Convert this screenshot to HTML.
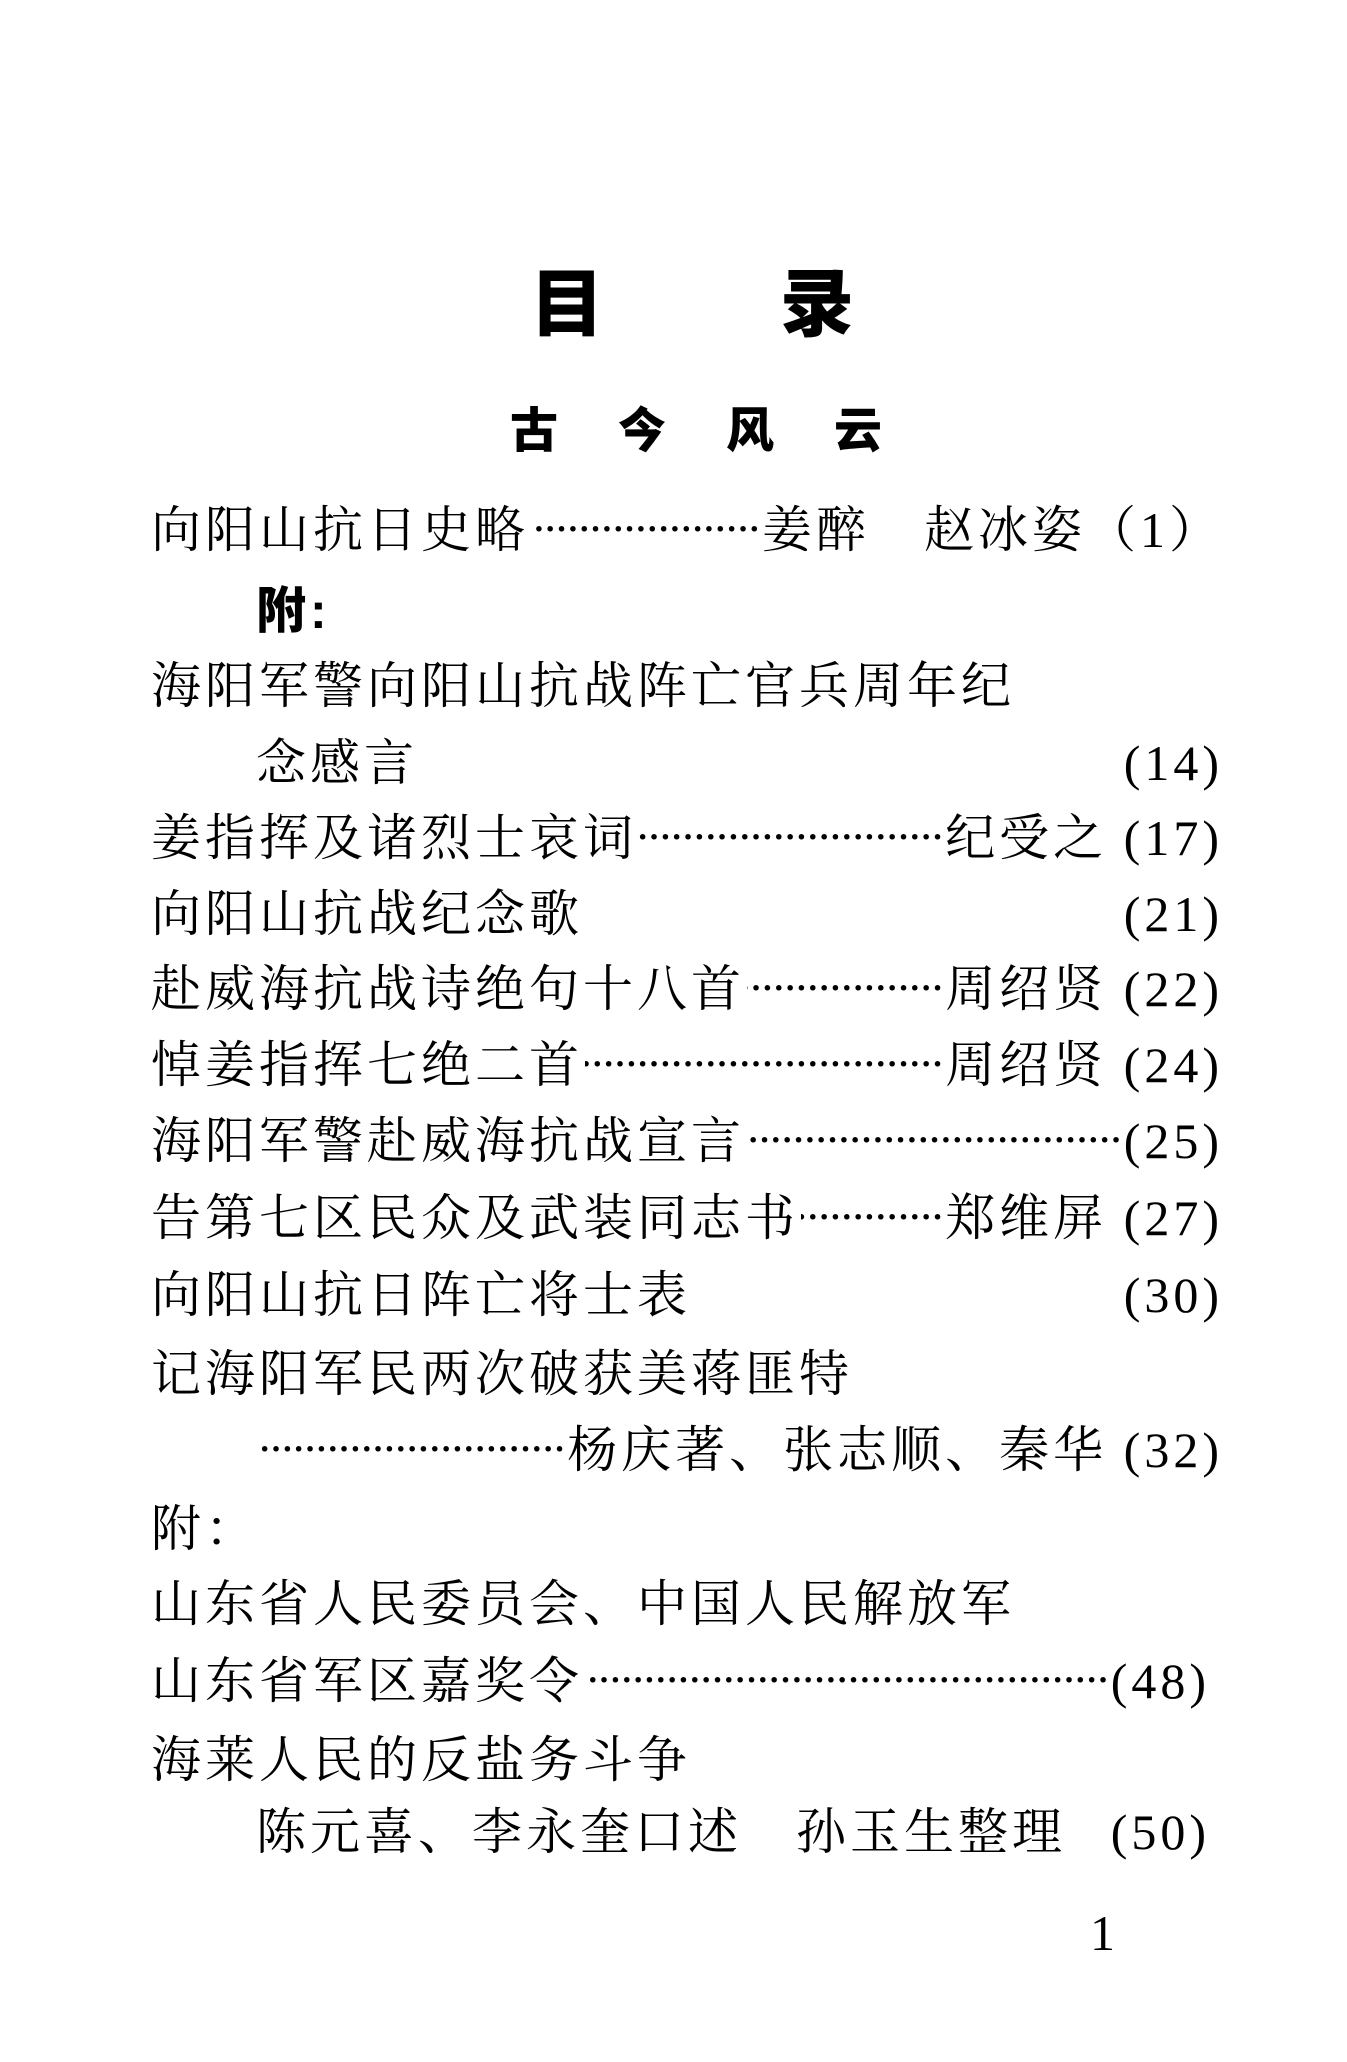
<!DOCTYPE html>
<html><head><meta charset="utf-8"><style>
html,body{margin:0;padding:0;background:#fff;}
body{width:1347px;height:2062px;position:relative;overflow:hidden;color:#000;
font-family:"Liberation Serif","Noto Serif CJK SC",serif;}
.t{position:absolute;font-family:"Liberation Sans","Noto Sans CJK SC",sans-serif;font-weight:900;white-space:nowrap}
.r{position:absolute;left:151px;right:124px;height:60px;line-height:60px;font-size:50px;letter-spacing:4px;display:flex;white-space:nowrap}
.r.i{left:256px}
.d{flex:1;overflow:hidden;font-size:34px;letter-spacing:0;text-align:right;direction:rtl;font-weight:bold;margin:0 2px}
.sp{flex:1}
.b{font-family:"Liberation Sans","Noto Sans CJK SC",sans-serif;font-weight:900}
</style></head><body>
<div class="t" style="left:530px;top:262px;font-size:74px;line-height:86px;">目</div>
<div class="t" style="left:780px;top:262px;font-size:74px;line-height:86px;">录</div>
<div class="t" style="left:510px;top:405px;font-size:48px;line-height:54px;letter-spacing:60px;">古今风云</div>

<div class="r" style="top:500px"><span>向阳山抗日史略</span><span class="d">····································································</span><span>姜醉　赵冰姿（1）</span></div>
<div class="r i" style="top:581px"><span class="b">附:</span></div>
<div class="r" style="top:656px"><span>海阳军警向阳山抗战阵亡官兵周年纪</span></div>
<div class="r i" style="top:733px"><span>念感言</span><span class="sp"></span><span>(14)</span></div>
<div class="r" style="top:808px"><span>姜指挥及诸烈士哀词</span><span class="d">····································································</span><span>纪受之 (17)</span></div>
<div class="r" style="top:884px"><span>向阳山抗战纪念歌</span><span class="sp"></span><span>(21)</span></div>
<div class="r" style="top:959px"><span>赴威海抗战诗绝句十八首</span><span class="d">····································································</span><span>周绍贤 (22)</span></div>
<div class="r" style="top:1035px"><span>悼姜指挥七绝二首</span><span class="d">····································································</span><span>周绍贤 (24)</span></div>
<div class="r" style="top:1111px"><span>海阳军警赴威海抗战宣言</span><span class="d">····································································</span><span> (25)</span></div>
<div class="r" style="top:1188px"><span>告第七区民众及武装同志书</span><span class="d">····································································</span><span>郑维屏 (27)</span></div>
<div class="r" style="top:1265px"><span>向阳山抗日阵亡将士表</span><span class="sp"></span><span>(30)</span></div>
<div class="r" style="top:1344px"><span>记海阳军民两次破获美蒋匪特</span></div>
<div class="r i" style="top:1420px"><span class="d">····································································</span><span>杨庆著、张志顺、秦华 (32)</span></div>
<div class="r" style="top:1499px"><span>附：</span></div>
<div class="r" style="top:1574px"><span>山东省人民委员会、中国人民解放军</span></div>
<div class="r" style="top:1651px;right:137px"><span>山东省军区嘉奖令</span><span class="d">····································································</span><span> (48)</span></div>
<div class="r" style="top:1730px"><span>海莱人民的反盐务斗争</span></div>
<div class="r i" style="top:1802px;right:137px"><span>陈元喜、李永奎口述　孙玉生整理</span><span class="sp"></span><span>(50)</span></div>
<div style="position:absolute;left:1090px;top:1905px;font-size:50px;line-height:56px;font-family:'Liberation Serif',serif;">1</div>
</body></html>
